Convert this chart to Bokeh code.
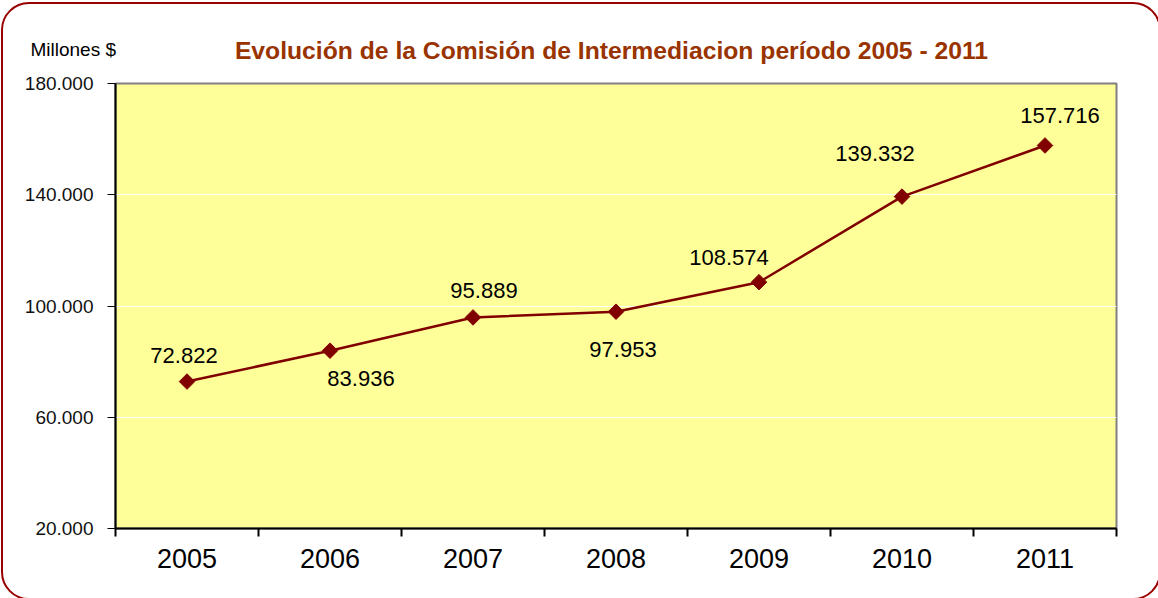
import math
from bokeh.plotting import figure
from bokeh.models import (Range1d, FixedTicker, CustomJSTickFormatter, ColumnDataSource,
                          LabelSet, Label, InlineStyleSheet)
from bokeh.core.properties import value
from bokeh.embed import file_html
from bokeh.resources import INLINE

years = ["2005", "2006", "2007", "2008", "2009", "2010", "2011"]
comision = [72822, 83936, 95889, 97953, 108574, 139332, 157716]
y_ticks = [20000, 60000, 100000, 140000, 180000]

title_text = "Evolución de la Comisión de Intermediacion período 2005 - 2011"
unit_text = "Millones  $"

# label offsets (pixels) - styling only
dx = [-3, 31, 11, 7, -30, -27, 15]
dy = [26, -28, 27, -38, 25, 43, 30]

xpos = [i + 0.5 for i in range(len(years))]
src = ColumnDataSource(dict(
    x=xpos, y=comision,
    txt=[f"{v:,}".replace(",", ".") for v in comision],
    dx=dx, dy=dy,
))

FONT = "Liberation Sans"
RED = "#800000"

W, H = 1158, 598
BL, BR, BT, BB = 115, 42, 83, 70

frame_css = InlineStyleSheet(css="""
:host { position: relative; }
:host::after {
  content: "";
  position: absolute;
  left: 1px; top: 2px;
  width: 1160px; height: 598px;
  border: 2px solid #990000;
  border-radius: 28px;
  pointer-events: none;
  box-sizing: border-box;
}
""")

p = figure(width=W, height=H, output_backend="svg", toolbar_location=None,
           x_range=Range1d(0, len(years)), y_range=Range1d(y_ticks[0], y_ticks[-1]),
           min_border_left=BL, min_border_right=BR, min_border_top=BT, min_border_bottom=BB,
           stylesheets=[frame_css])
p.background_fill_color = "#FFFF99"
p.border_fill_color = "white"
p.outline_line_color = "#808080"
p.outline_line_width = 2

# axes
p.xaxis.ticker = FixedTicker(ticks=xpos, minor_ticks=list(range(len(years) + 1)))
p.xaxis.formatter = CustomJSTickFormatter(args=dict(cats=years), code="return cats[Math.floor(tick)];")
p.xaxis.major_tick_out = 0
p.xaxis.major_tick_in = 0
p.xaxis.minor_tick_out = 8
p.xaxis.minor_tick_in = 0
p.xaxis.minor_tick_line_color = "black"
p.xaxis.minor_tick_line_width = 2
p.xaxis.axis_line_color = "black"
p.xaxis.axis_line_width = 2
p.xaxis.major_label_text_font = FONT
p.xaxis.major_label_text_font_size = "27px"
p.xaxis.major_label_text_color = "black"
p.xaxis.major_label_standoff = 12

p.yaxis.ticker = FixedTicker(ticks=y_ticks, minor_ticks=[])
p.yaxis.formatter = CustomJSTickFormatter(code="return (tick/1000).toFixed(3);")
p.yaxis.major_tick_out = 8
p.yaxis.major_tick_in = 0
p.yaxis.major_tick_line_color = "black"
p.yaxis.major_tick_line_width = 1
p.yaxis.axis_line_color = "black"
p.yaxis.axis_line_width = 2
p.yaxis.major_label_text_font = FONT
p.yaxis.major_label_text_font_size = "19px"
p.yaxis.major_label_text_color = "#111111"
p.yaxis.major_label_standoff = 14

p.xgrid.grid_line_color = None
p.ygrid.grid_line_color = "white"
p.ygrid.grid_line_width = 1
p.ygrid.ticker = FixedTicker(ticks=y_ticks)

# data
p.line("x", "y", source=src, line_color=RED, line_width=2.5)
p.scatter("x", "y", source=src, marker="square", angle=math.pi / 4, size=11,
          fill_color=RED, line_color=RED)

labels = LabelSet(x="x", y="y", text="txt", source=src, x_offset="dx", y_offset="dy",
                  text_align="center", text_baseline="middle",
                  text_font=value(FONT), text_font_size="22px", text_color="black")
p.add_layout(labels)

# header texts, placed in the top panels (screen px relative to each panel)
title = Label(x=611 - BL, y=BT - 50, x_units="screen", y_units="screen", text=title_text,
              text_align="center", text_baseline="middle", text_font=FONT,
              text_font_size="24.7px", text_font_style="bold", text_color="#993300")
p.add_layout(title, "above")
unit = Label(x=30 - BL, y=BT - 50 - 26, x_units="screen", y_units="screen", text=unit_text,
             text_align="left", text_baseline="middle", text_font=FONT,
             text_font_size="19px", text_color="black")
p.add_layout(unit, "above")

open("out.html", "w").write(file_html(p, INLINE))
